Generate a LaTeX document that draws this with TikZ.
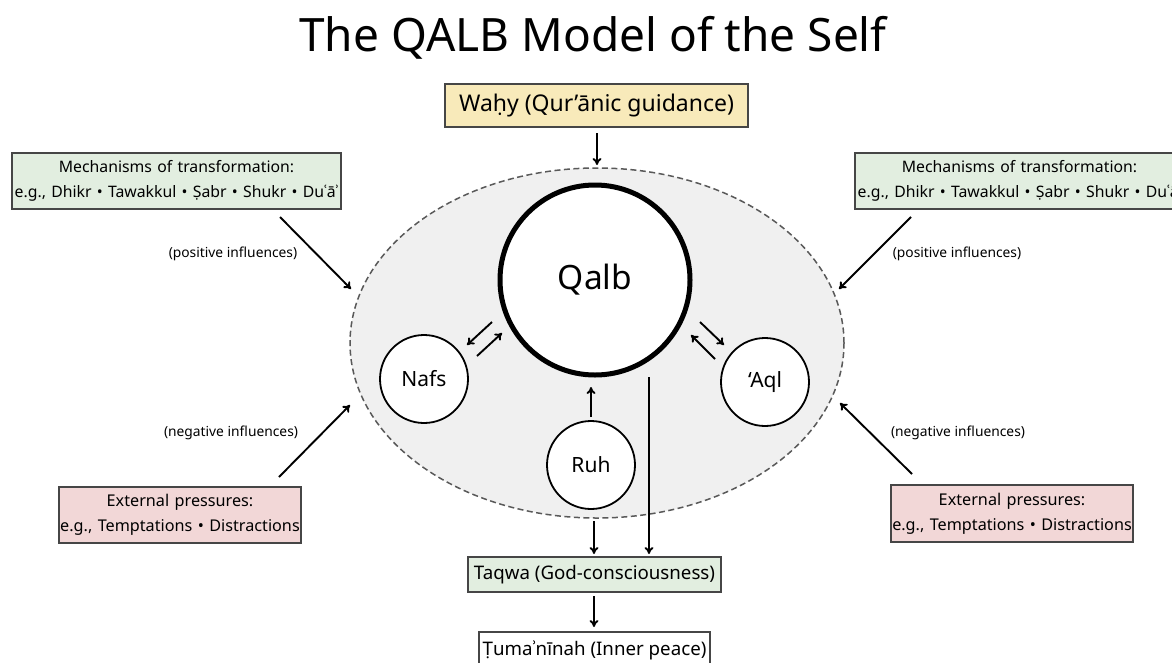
\documentclass[tikz,border=0pt]{standalone}
\usepackage{fontspec}
\setmainfont{Noto Sans}
\usetikzlibrary{arrows.meta,shapes.geometric}
\definecolor{wahyfill}{RGB}{248,234,186}
\definecolor{greenfill}{RGB}{226,238,224}
\definecolor{pinkfill}{RGB}{242,215,215}
\definecolor{ellfill}{RGB}{240,240,240}
\definecolor{boxline}{RGB}{70,70,70}
\begin{document}
\begin{tikzpicture}[x=1pt,y=-1pt,
  box/.style={draw=boxline,line width=1.1pt,inner sep=0pt,align=center},
  circ/.style={circle,draw=black,fill=white,line width=1.8pt,inner sep=0pt,font=\fontsize{21}{24}\selectfont},
  arr/.style={line width=1.9pt,-{To[length=7pt,width=9pt]}},
  infl/.style={font=\fontsize{13.8}{16}\selectfont},
  mechtext/.style={font=\fontsize{15.8}{25}\selectfont},
  exttext/.style={font=\fontsize{16.2}{25}\selectfont}
]
\useasboundingbox (0,0) rectangle (1172,662);
\fill[white] (0,0) rectangle (1172,662);

\node (title) at (593,38) {\fontsize{46}{52}\selectfont The QALB Model of the Self};

\node[box,fill=wahyfill,minimum width=303pt,minimum height=43pt,font=\fontsize{23}{27}\selectfont] (wahy) at (596.5,105.5) {Waḥy (Qur’ānic guidance)};

\node[ellipse,draw=black!65,dash pattern=on 6pt off 3.5pt,line width=1.5pt,fill=ellfill,minimum width=494pt,minimum height=350pt,inner sep=0pt] (ell) at (597,343) {};

\node[circle,draw=black,fill=white,line width=5pt,minimum size=190pt,inner sep=0pt,font=\fontsize{33.5}{38}\selectfont] (qalb) at (595,280) {Qalb};
\node[circ,minimum size=88pt] (nafs) at (424,379) {Nafs};
\node[circ,minimum size=88pt] (aql) at (765,382) {‘Aql};
\node[circ,minimum size=88pt] (ruh) at (591,465) {Ruh};

\node[box,fill=greenfill,minimum width=253pt,minimum height=35pt,font=\fontsize{18.7}{22}\selectfont] (taqwa) at (594.5,574.5) {Taqwa (God-consciousness)};
\node[box,fill=white,minimum width=231pt,minimum height=36pt,font=\fontsize{18.7}{22}\selectfont] (tum) at (594.5,650) {Ṭumaʾnīnah (Inner peace)};

\node[box,mechtext,fill=greenfill,text width=329pt,minimum height=56pt] (mechL) at (176.5,181) {Mechanisms of transformation:\\e.g., Dhikr • Tawakkul • Ṣabr • Shukr • Duʿāʾ};
\node[box,mechtext,fill=greenfill,text width=329pt,minimum height=56pt] (mechR) at (1019.5,181) {Mechanisms of transformation:\\e.g., Dhikr • Tawakkul • Ṣabr • Shukr • Duʿāʾ};
\node[box,exttext,fill=pinkfill,text width=242pt,minimum height=56pt] (extL) at (180,515) {External pressures:\\e.g., Temptations • Distractions};
\node[box,exttext,fill=pinkfill,text width=242pt,minimum height=57pt] (extR) at (1012,513.5) {External pressures:\\e.g., Temptations • Distractions};

\node[infl] (posL) at (233,254) {(positive influences)};
\node[infl] (posR) at (957,254) {(positive influences)};
\node[infl] (negL) at (231,433) {(negative influences)};
\node[infl] (negR) at (958,433) {(negative influences)};

% free ends
\coordinate (wTop) at (597,133);
\coordinate (wEnd) at (597,165);
\coordinate (pLs) at (280,217); \coordinate (pLe) at (351,289);
\coordinate (pRs) at (911,217); \coordinate (pRe) at (839,289);
\coordinate (nLs) at (279,477); \coordinate (nLe) at (350,405);
\coordinate (nRs) at (912,474); \coordinate (nRe) at (840,403);
\coordinate (qn1) at (492,322); \coordinate (qn2) at (467,345);
\coordinate (nq1) at (477,356); \coordinate (nq2) at (502,333);
\coordinate (qa1) at (700,322); \coordinate (qa2) at (724,345);
\coordinate (aq1) at (715,359); \coordinate (aq2) at (691,335);
\coordinate (rq1) at (591,417); \coordinate (rq2) at (591,387);
\coordinate (qt1) at (649,377); \coordinate (qt2) at (649,554);
\coordinate (rt1) at (594,521); \coordinate (rt2) at (594,554);
\coordinate (tt1) at (594,596); \coordinate (tt2) at (594,627);

\draw[arr] (wTop) -- (wEnd);
\draw[arr] (pLs) -- (pLe);
\draw[arr] (pRs) -- (pRe);
\draw[arr] (nLs) -- (nLe);
\draw[arr] (nRs) -- (nRe);
\draw[arr] (qn1) -- (qn2);
\draw[arr] (nq1) -- (nq2);
\draw[arr] (qa1) -- (qa2);
\draw[arr] (aq1) -- (aq2);
\draw[arr] (rq1) -- (rq2);
\draw[arr] (qt1) -- (qt2);
\draw[arr] (rt1) -- (rt2);
\draw[arr] (tt1) -- (tt2);
\end{tikzpicture}
\end{document}
